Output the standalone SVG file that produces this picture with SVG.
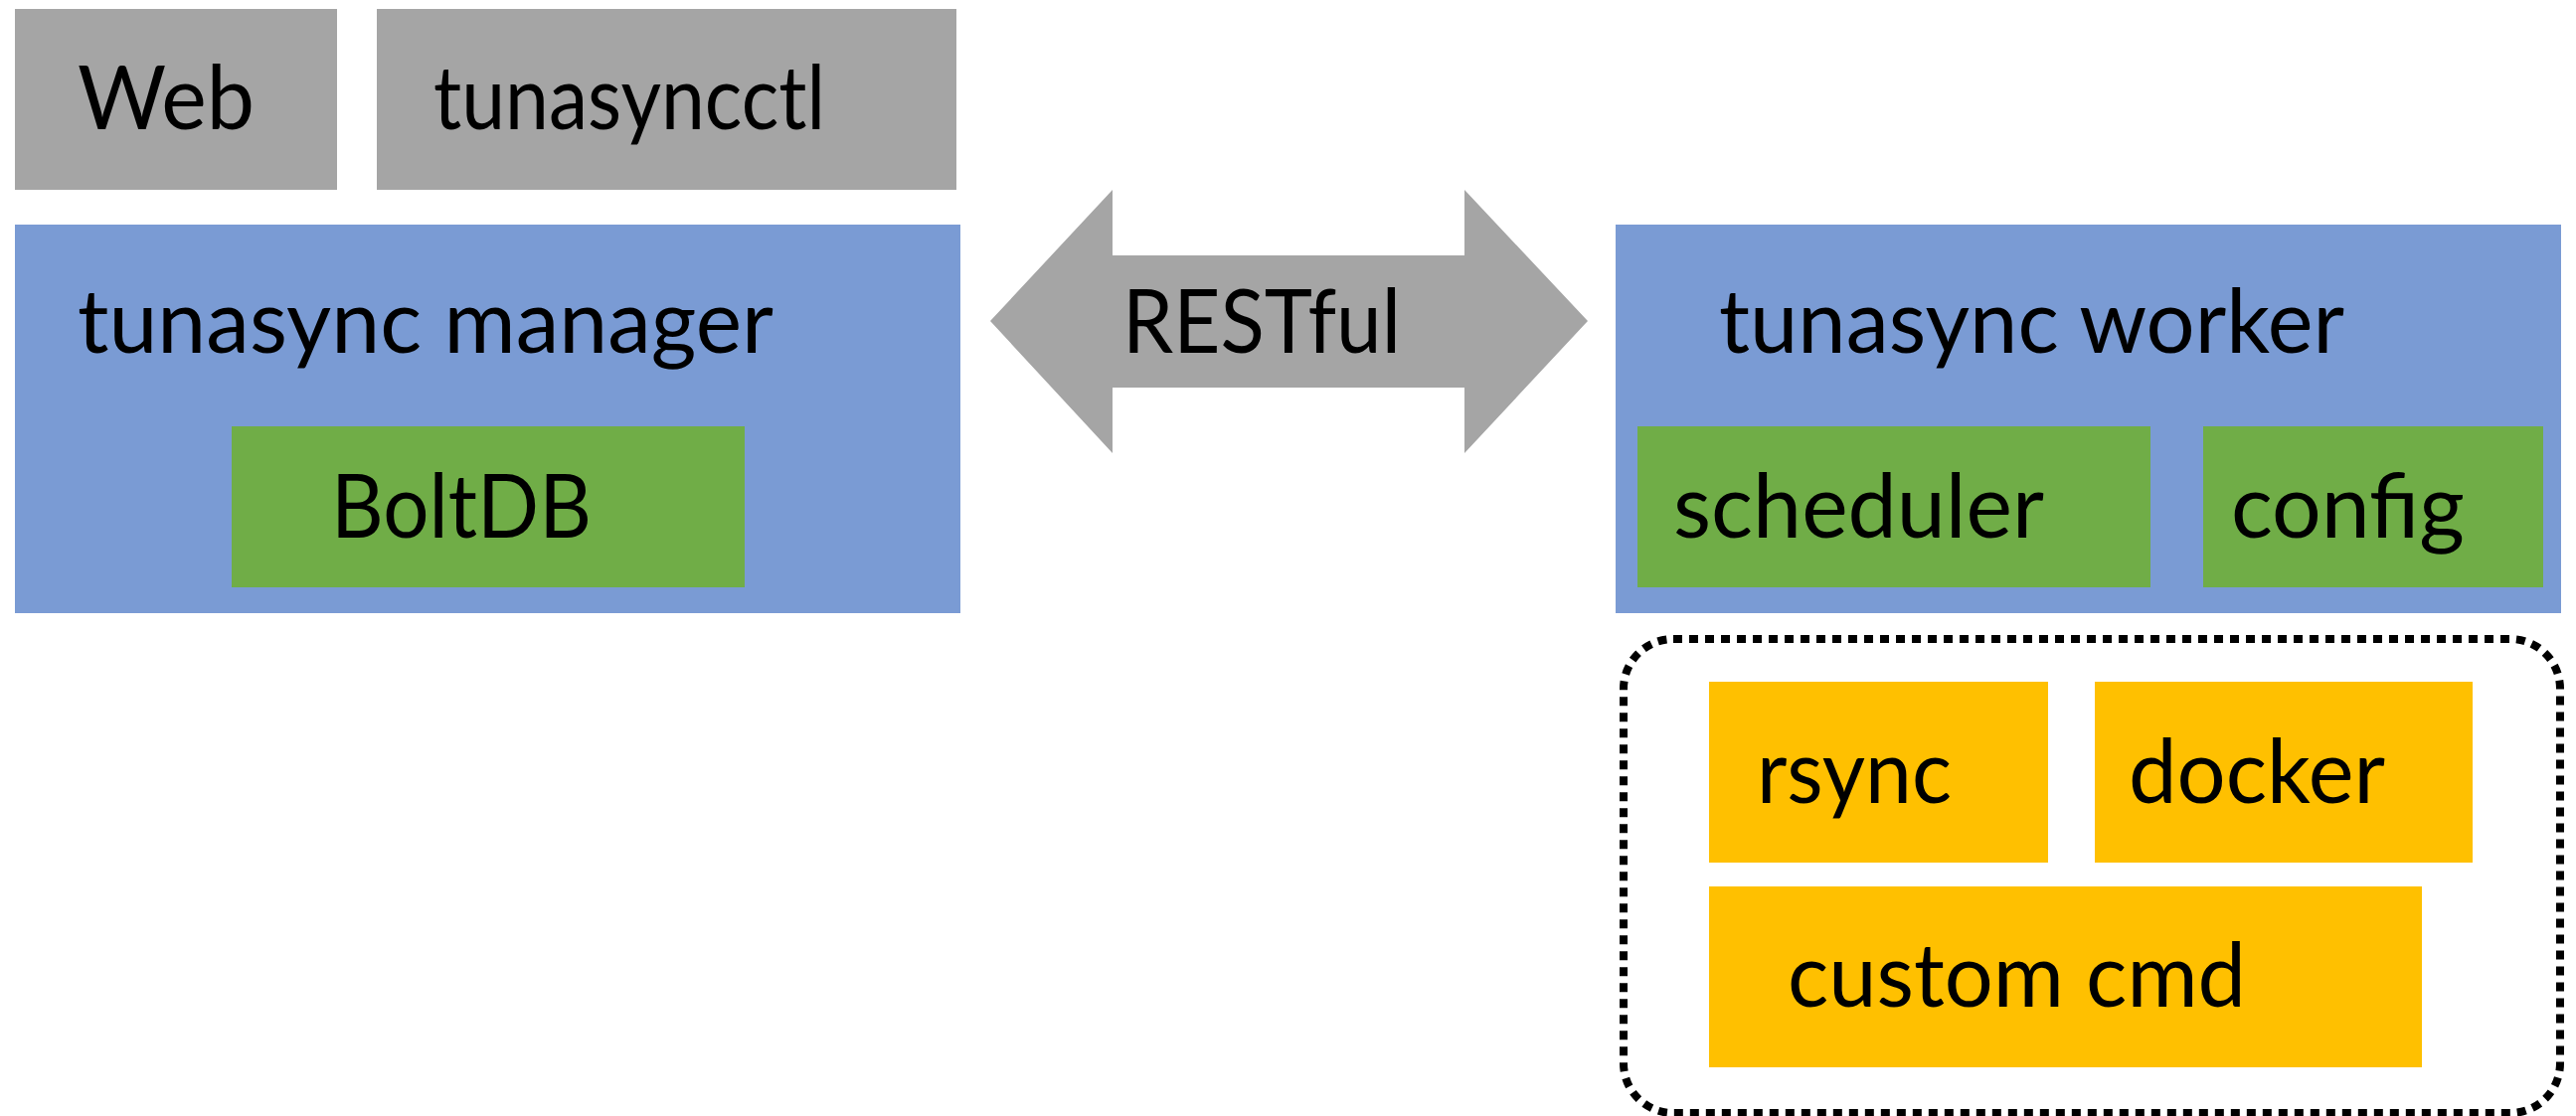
<svg xmlns="http://www.w3.org/2000/svg" width="2591" height="1123" viewBox="0 0 2591 1123">
<style>
.gray{fill:#A5A5A5}
.blue{fill:#7A9BD4}
.green{fill:#70AD47}
.orange{fill:#FFC000}
text{font-family:Lato,"Open Sans","Liberation Sans",sans-serif;font-size:90px;fill:#000}
</style>
<rect width="2591" height="1123" fill="#FFFFFF"/>
<g id="web"><rect class="gray" x="15" y="9" width="324" height="182"/><text x="78" y="130" textLength="178" lengthAdjust="spacingAndGlyphs">Web</text></g>
<g id="tunasyncctl"><rect class="gray" x="379" y="9" width="583" height="182"/><text x="436" y="130" textLength="394" lengthAdjust="spacingAndGlyphs">tunasyncctl</text></g>
<g id="manager"><rect class="blue" x="15" y="226" width="951" height="391"/><text x="78" y="355" textLength="700" lengthAdjust="spacingAndGlyphs">tunasync manager</text></g>
<g id="boltdb"><rect class="green" x="233" y="429" width="516" height="162"/><text x="333" y="541" textLength="262" lengthAdjust="spacingAndGlyphs">BoltDB</text></g>
<g id="worker"><rect class="blue" x="1625" y="226" width="951" height="391"/><text x="1729" y="355" textLength="629" lengthAdjust="spacingAndGlyphs">tunasync worker</text></g>
<g id="scheduler"><rect class="green" x="1647" y="429" width="516" height="162"/><text x="1683" y="541" textLength="373" lengthAdjust="spacingAndGlyphs">scheduler</text></g>
<g id="config"><rect class="green" x="2216" y="429" width="342" height="162"/><text x="2244" y="541" textLength="235" lengthAdjust="spacingAndGlyphs">config</text></g>
<g id="backends"><rect x="1633" y="643" width="942" height="477" rx="50" ry="50" fill="none" stroke="#000" stroke-width="8" stroke-dasharray="9 7"/></g>
<g id="rsync"><rect class="orange" x="1719" y="686" width="341" height="182"/><text x="1767" y="808" textLength="196" lengthAdjust="spacingAndGlyphs">rsync</text></g>
<g id="docker"><rect class="orange" x="2107" y="686" width="380" height="182"/><text x="2141" y="808" textLength="258" lengthAdjust="spacingAndGlyphs">docker</text></g>
<g id="customcmd"><rect class="orange" x="1719" y="892" width="717" height="182"/><text x="1798" y="1013" textLength="461" lengthAdjust="spacingAndGlyphs">custom cmd</text></g>
<g id="connectors">
<polygon class="gray" points="996,323 1119,191 1119,257 1473,257 1473,191 1597,323 1473,456 1473,390 1119,390 1119,456"/>
<text x="1129" y="355" textLength="280" lengthAdjust="spacingAndGlyphs">RESTful</text>
</g>
</svg>
